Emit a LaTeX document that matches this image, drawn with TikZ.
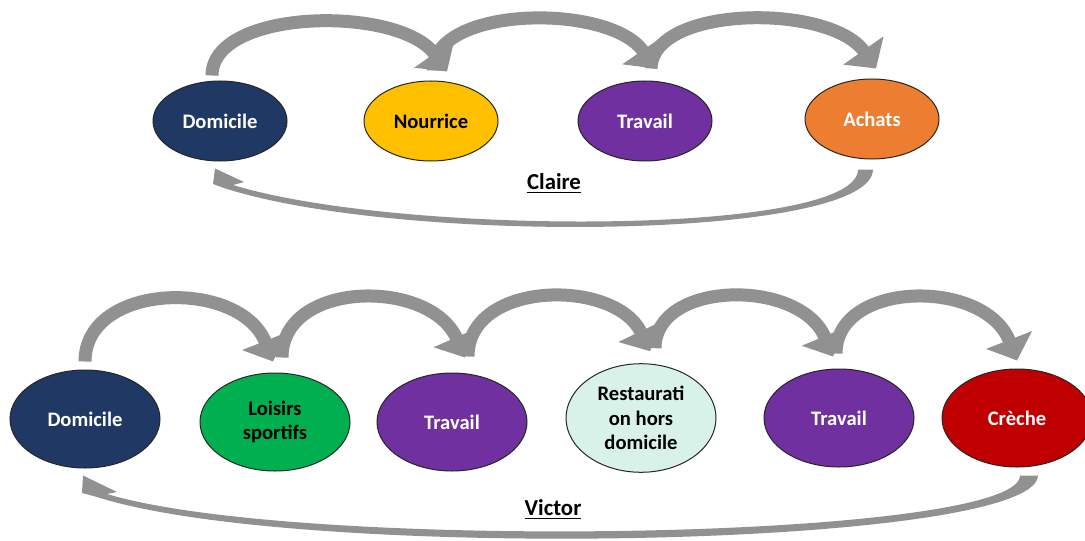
\documentclass[tikz,border=0pt]{standalone}
\usepackage{fontspec}
\setmainfont{Carlito}
\usetikzlibrary{shapes.geometric,arrows.meta}
\definecolor{marine}{RGB}{31,56,100}
\definecolor{jaune}{RGB}{255,192,0}
\definecolor{violet}{RGB}{112,48,160}
\definecolor{orange}{RGB}{237,125,49}
\definecolor{vert}{RGB}{0,176,80}
\definecolor{menthe}{RGB}{216,242,233}
\definecolor{rouge}{RGB}{192,0,0}
\definecolor{gris}{RGB}{145,145,145}
\tikzset{
  lieu/.style={ellipse,draw=black!85,line width=0.5pt,align=center,
    font=\fontsize{10.3}{12.2}\selectfont\bfseries},
  petit/.style={lieu,minimum width=67pt,minimum height=40pt},
  grand/.style={lieu,minimum width=75pt,minimum height=49pt},
  fleche/.style={draw=gris,line width=6.5pt,-{Triangle[width=24pt,length=11pt]}},
  retour/.style={fill=gris},
  titre/.style={font=\fontsize{11.4}{13}\selectfont\bfseries}
}
\begin{document}
\begin{tikzpicture} [x=0.5pt,y=-0.5pt]
		\useasboundingbox (0,0) rectangle (1085,540);
		\node [petit,fill=marine,text=white] (c1) at (220,121) {Domicile};
		\node [petit,fill=jaune] (c2) at (431,121) {Nourrice};
		\node [petit,fill=violet,text=white] (c3) at (645,121) {Travail};
		\node [petit,fill=orange,text=white] (c4) at (872,119) {Achats};
		\node [titre] (claire) at (554,184) {\underline{Claire}};
		\draw [fleche] ([xshift=-4pt,yshift=2.5pt]c1.north) .. controls (212,8) and (400,5) .. ([xshift=8pt,yshift=4.5pt]c2.north);
		\draw [fleche] ([xshift=1pt,yshift=5pt]c2.north) .. controls (433,5) and (610,3) .. ([xshift=5pt,yshift=6pt]c3.north);
		\draw [fleche] ([xshift=3pt,yshift=6pt]c3.north) .. controls (652,5) and (830,3) .. ([xshift=2pt,yshift=5pt]c4.north);
		\fill [retour] ([xshift=0.5pt,yshift=-5pt]c4.south) .. controls (872,240) and (400,245) .. (224,188) -- (213,184)
			-- ([xshift=-2.5pt,yshift=-3.5pt]c1.south) -- (244,182) -- (233,185) .. controls (400,236) and (858,236) .. ([xshift=-7pt,yshift=-5pt]c4.south) -- cycle;
		\node [grand,fill=marine,text=white] (v1) at (85,419) {Domicile};
		\node [grand,fill=vert] (v2) at (275,422) {Loisirs\\sportifs};
		\node [grand,fill=violet,text=white] (v3) at (452,422) {Travail};
		\node [grand,fill=menthe] (v4) at (641,418) {Restaurati\\on hors\\domicile};
		\node [grand,fill=violet,text=white] (v5) at (839,418) {Travail};
		\node [grand,fill=rouge,text=white] (v6) at (1017,418) {Crèche};
		\node [titre] (victor) at (553,510) {\underline{Victor}};
		\draw [fleche] ([yshift=4pt]v1.north) .. controls (85,282) and (240,278) .. ([xshift=-1pt,yshift=5.5pt]v2.north);
		\draw [fleche] ([xshift=3.5pt,yshift=7.5pt]v2.north) .. controls (282,280) and (430,278) .. ([xshift=6.5pt,yshift=7.5pt]v3.north);
		\draw [fleche] ([xshift=8pt,yshift=8pt]v3.north) .. controls (468,280) and (615,278) .. ([xshift=4.5pt,yshift=6pt]v4.north);
		\draw [fleche] ([xshift=7pt,yshift=7.5pt]v4.north) .. controls (655,280) and (800,278) .. ([xshift=-3pt,yshift=6pt]v5.north);
		\draw [fleche] ([xshift=-1.5pt,yshift=7.5pt]v5.north) .. controls (836,280) and (985,278) .. ([yshift=4pt]v6.north);
		\fill [retour] ([xshift=10.5pt,yshift=-4pt]v6.south) .. controls (1036,548) and (300,562) .. (97,497) -- (82,493)
			-- ([xshift=-1pt,yshift=-3.5pt]v1.south) -- (117,492) -- (107,494) .. controls (300,552) and (1020,540) .. ([xshift=1.5pt,yshift=-4pt]v6.south) -- cycle;
	\end{tikzpicture}
\end{document}
